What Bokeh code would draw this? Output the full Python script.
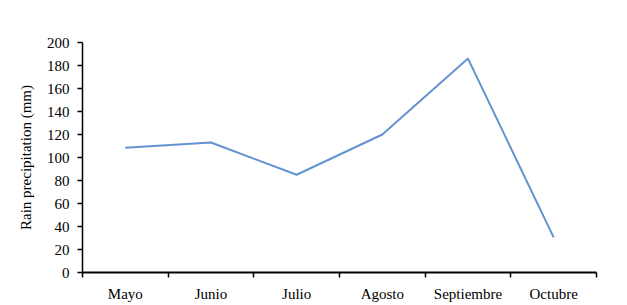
from bokeh.plotting import figure
from bokeh.models import Range1d, FixedTicker
from bokeh.embed import file_html
from bokeh.resources import INLINE

months = ["Mayo", "Junio", "Julio", "Agosto", "Septiembre", "Octubre"]
rain_mm = [108.5, 113, 85, 120, 186, 30.5]
y_ticks = [0, 20, 40, 60, 80, 100, 120, 140, 160, 180, 200]

xs = [i + 0.5 for i in range(len(months))]

p = figure(width=620, height=304, output_backend="svg", toolbar_location=None,
           x_range=Range1d(0, len(months)), y_range=Range1d(0, 200),
           min_border_left=82, min_border_right=24, min_border_top=42, min_border_bottom=30)
p.outline_line_color = None
p.xgrid.grid_line_color = None
p.ygrid.grid_line_color = None

p.line(xs, rain_mm, line_color="#6393d0", line_width=2)

font = "Liberation Serif"
p.xaxis.ticker = FixedTicker(ticks=xs, minor_ticks=list(range(len(months) + 1)))
p.xaxis.major_label_overrides = {x: m for x, m in zip(xs, months)}
p.xaxis.major_tick_out = 0
p.xaxis.major_tick_in = 0
p.xaxis.minor_tick_out = 5
p.xaxis.minor_tick_in = 0
p.xaxis.minor_tick_line_color = "black"
p.xaxis.minor_tick_line_width = 1.5
p.xaxis.axis_line_color = "black"
p.xaxis.axis_line_width = 2
p.xaxis.major_label_text_font = font
p.xaxis.major_label_text_font_size = "15px"
p.xaxis.major_label_text_color = "black"
p.xaxis.major_label_standoff = 8

p.yaxis.ticker = FixedTicker(ticks=y_ticks, minor_ticks=[])
p.yaxis.major_tick_out = 5
p.yaxis.major_tick_in = 0
p.yaxis.major_tick_line_color = "black"
p.yaxis.major_tick_line_width = 1.5
p.yaxis.axis_line_color = "black"
p.yaxis.axis_line_width = 1.5
p.yaxis.major_label_text_font = font
p.yaxis.major_label_text_font_size = "15px"
p.yaxis.major_label_text_color = "black"
p.yaxis.major_label_standoff = 8
p.yaxis.axis_label = "Rain precipitation (mm)"
p.yaxis.axis_label_text_font = font
p.yaxis.axis_label_text_font_size = "15px"
p.yaxis.axis_label_text_font_style = "normal"
p.yaxis.axis_label_text_color = "black"
p.yaxis.axis_label_standoff = 10

open("out.html", "w").write(file_html(p, INLINE))
